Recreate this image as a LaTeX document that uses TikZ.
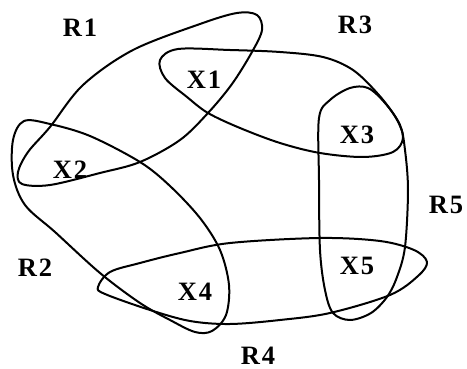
\documentclass[tikz,border=0pt]{standalone}
\usepackage{fontspec}
\setmainfont{Liberation Serif}
\newcommand{\spacedlbl}[2]{#1\kern2pt#2}
\begin{document}
\begin{tikzpicture}[x=1pt,y=-1pt,
  hedge/.style={line width=2pt, line join=round},
  lbl/.style={font=\bfseries\fontsize{26.5}{26.5}\selectfont, inner sep=0pt}]
\useasboundingbox (0,0) rectangle (467,369);
% R1
\draw[hedge] plot[smooth cycle, tension=0.55] coordinates {
 (237,13) (200,24) (133,50) (83,85) (50,127) (28,152) (18,172) (22,184) (50,185) (100,173) (140,162) (180,140) (208,113) (232,84) (252,52) (262,30) (257,15)};
% R3
\draw[hedge] plot[smooth cycle, tension=0.55] coordinates {
 (160,60) (178,49) (230,50) (280,52) (323,57) (353,70) (378,94) (396,118) (403,138) (393,152) (363,157) (320,153) (280,143) (240,128) (208,113) (187,97) (165,78)};
% R5
\draw[hedge] plot[smooth cycle, tension=0.55] coordinates {
 (319,118) (330,100) (350,88) (368,88) (385,103) (400,125) (405,150) (408,190) (405,247) (397,277) (387,297) (371,313) (350,320) (333,313) (325,290) (320,250) (319,180)};
% R4
\draw[hedge] plot[smooth cycle, tension=0.55] coordinates {
 (98,287) (110,272) (140,263) (180,253) (230,243) (320,238) (380,241) (414,250) (427,262) (418,276) (390,295) (330,313) (280,320) (230,324) (190,321) (150,310) (105,294)};
% R2
\draw[hedge] plot[smooth cycle, tension=0.55] coordinates {
 (24,121) (50,124) (90,136) (140,162) (170,186) (200,218) (220,250) (229,285) (226,315) (212,331) (195,332) (170,320) (140,303) (100,273) (55,232) (25,205) (13,175) (13,140)};
% labels
\node[lbl] (r1) at (80,28) {\spacedlbl R1};
\node[lbl] (r3) at (355,25) {\spacedlbl R3};
\node[lbl] (r5) at (446,205) {\spacedlbl R5};
\node[lbl] (r2) at (35,268) {\spacedlbl R2};
\node[lbl] (r4) at (258,356) {\spacedlbl R4};
\node[lbl] (x1) at (204,80) {\spacedlbl X1};
\node[lbl] (x2) at (70,170) {\spacedlbl X2};
\node[lbl] (x3) at (357,135) {\spacedlbl X3};
\node[lbl] (x4) at (195,292) {\spacedlbl X4};
\node[lbl] (x5) at (357,266) {\spacedlbl X5};
\end{tikzpicture}
\end{document}
